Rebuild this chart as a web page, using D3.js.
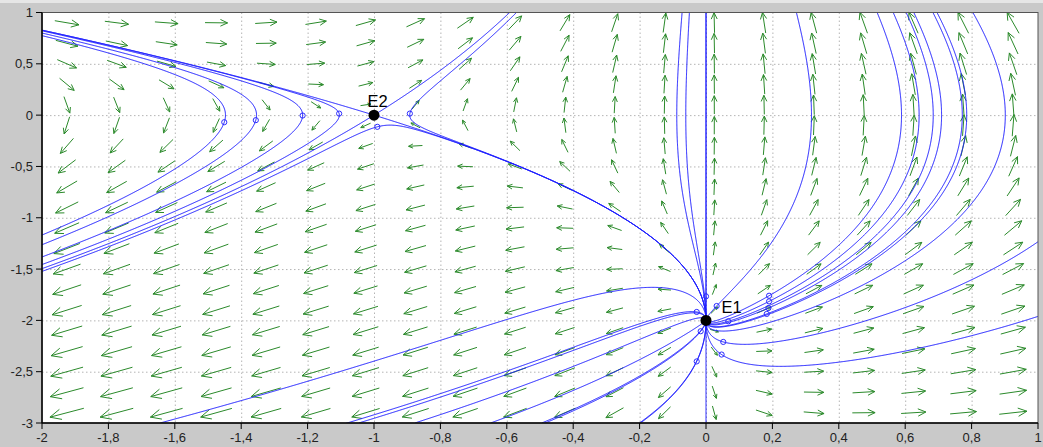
<!DOCTYPE html>
<html>
<head>
<meta charset="utf-8">
<script src="https://cdn.jsdelivr.net/npm/d3@7"></script>
<style>
  body { margin: 0; background: #c9c9c9; }
  svg { display: block; font-family: "Liberation Sans", Arial, sans-serif; }
</style>
</head>
<body>
<svg id="chart" width="1043" height="447"></svg>
<script>
// axis ticks
const xTicks = [-2, -1.8, -1.6, -1.4, -1.2, -1, -0.8, -0.6, -0.4, -0.2, 0, 0.2, 0.4, 0.6, 0.8, 1];
const xTickLabels = ["-2", "-1,8", "-1,6", "-1,4", "-1,2", "-1", "-0,8", "-0,6", "-0,4", "-0,2", "0", "0,2", "0,4", "0,6", "0,8", "1"];
const yTicks = [1, 0.5, 0, -0.5, -1, -1.5, -2, -2.5, -3];
const yTickLabels = ["1", "0,5", "0", "-0,5", "-1", "-1,5", "-2", "-2,5", "-3"];

// system read off the field, coefficients on [1, x, y, x*y]
// x' = -x*y ,  y' = 2 + 2x + y
const sysX = [0, 0, 0, -1];
const sysY = [2, 2, 1, 0];

// direction field grid
const fieldX = [-1.925, -1.775, -1.625, -1.475, -1.325, -1.175, -1.025, -0.875, -0.725, -0.575,
                -0.425, -0.275, -0.125, 0.025, 0.175, 0.325, 0.475, 0.625, 0.775, 0.925];
const fieldY = [-2.9, -2.7, -2.5, -2.3, -2.1, -1.9, -1.7, -1.5, -1.3, -1.1,
                -0.9, -0.7, -0.5, -0.3, -0.1, 0.1, 0.3, 0.5, 0.7, 0.9];

// equilibria
const eqNames = ["E1", "E2"];
const eqX = [0, -1];
const eqY = [-2, 0];

// picked starting points (drawn with small circles)
const seedsSaddle = [[-1.451, -0.069], [-1.356, -0.049], [-1.215, -0.004], [-1.105, 0.015],
                     [-0.892, 0.015], [-0.99, -0.114]];
const seedsNode = [[0.032, -1.86], [0.19, -1.76], [0.19, -1.815], [0.188, -1.88], [0.183, -1.937],
                   [0.067, -2.009], [0.052, -2.21], [0.047, -2.333], [-0.028, -1.918], [-0.028, -2.4],
                   [0.0, -1.766], [-0.016, -2.106]];
// curves from E1 that cross the bottom / top edge (no marker)
const exitBottom = [-1.643, -1.045, -0.876, -0.648, -0.494, -0.2];
const exitTop = [-0.072, -0.05, 0.696, 0.804];

const svg = d3.select("#chart");
const W = 1043, H = 447;
const margin = { top: 12.5, right: 5, bottom: 24, left: 42 };

const x = d3.scaleLinear().domain([-2, 1]).range([margin.left, W - margin.right]);
const y = d3.scaleLinear().domain([-3, 1]).range([H - margin.bottom, margin.top]);
const kx = (x(1) - x(-2)) / 3;
const ky = (y(-3) - y(1)) / 4;

// light strip on top
svg.append("rect").attr("width", W).attr("height", 3).attr("fill", "#e6e6e6");

svg.append("defs").append("clipPath").attr("id", "plot")
  .append("rect")
    .attr("x", x(-2)).attr("y", y(1))
    .attr("width", x(1) - x(-2)).attr("height", y(-3) - y(1));

svg.append("rect")
  .attr("x", x(-2)).attr("y", y(1))
  .attr("width", x(1) - x(-2)).attr("height", y(-3) - y(1))
  .attr("fill", "#fff");

// dotted grid
const grid = svg.append("g").attr("stroke", "#b4b4b4").attr("stroke-dasharray", "1.5,2.5");
grid.selectAll("line.v").data(xTicks.slice(1, -1)).join("line")
  .attr("class", "v")
  .attr("x1", d => x(d) + 0.5).attr("x2", d => x(d) + 0.5)
  .attr("y1", y(1)).attr("y2", y(-3));
grid.selectAll("line.h").data(yTicks.slice(1, -1)).join("line")
  .attr("class", "h")
  .attr("y1", d => y(d) + 0.5).attr("y2", d => y(d) + 0.5)
  .attr("x1", x(-2)).attr("x2", x(1));

const rate = (px, py) => {
  const b = [1, px, py, px * py];
  return [d3.sum(b, (v, i) => v * sysX[i]), d3.sum(b, (v, i) => v * sysY[i])];
};

// direction field
const arrows = [];
fieldY.forEach(fy => fieldX.forEach(fx => {
  const v = rate(fx, fy);
  const sx = v[0] * kx, sy = -v[1] * ky;
  const s = Math.hypot(sx, sy);
  if (s < 1e-9) return;
  const L = 3.63 * Math.pow(s, 0.3);
  const ux = sx / s, uy = sy / s;
  const cx = x(fx), cy = y(fy);
  const tx = cx - ux * L / 2, ty = cy - uy * L / 2;
  const hx = cx + ux * L / 2, hy = cy + uy * L / 2;
  const hl = 0.35 * L, a = 25 * Math.PI / 180;
  const b1 = [hx - hl * (ux * Math.cos(a) - uy * Math.sin(a)), hy - hl * (uy * Math.cos(a) + ux * Math.sin(a))];
  const b2 = [hx - hl * (ux * Math.cos(a) + uy * Math.sin(a)), hy - hl * (uy * Math.cos(a) - ux * Math.sin(a))];
  arrows.push(`M${tx},${ty}L${hx},${hy}M${b1[0]},${b1[1]}L${hx},${hy}L${b2[0]},${b2[1]}`);
}));

svg.append("g")
  .selectAll("path")
  .data(arrows)
  .join("path")
    .attr("d", d => d)
    .attr("fill", "none")
    .attr("stroke", "#2b8a2b")
    .attr("stroke-width", 1);

// trajectories
function trace(p0, dir, skip) {
  const pts = [p0];
  let px = p0[0], py = p0[1];
  for (let n = 0; n < 9000; n++) {
    const v = rate(px, py);
    const sp = Math.hypot(v[0] * kx, v[1] * ky);
    if (sp < 1e-10) break;
    const h = dir * 0.8 / sp;
    const k1 = v;
    const k2 = rate(px + h / 2 * k1[0], py + h / 2 * k1[1]);
    const k3 = rate(px + h / 2 * k2[0], py + h / 2 * k2[1]);
    const k4 = rate(px + h * k3[0], py + h * k3[1]);
    px += h / 6 * (k1[0] + 2 * k2[0] + 2 * k3[0] + k4[0]);
    py += h / 6 * (k1[1] + 2 * k2[1] + 2 * k3[1] + k4[1]);
    pts.push([px, py]);
    if (px < -2.05 || px > 1.05 || py < -3.05 || py > 1.05) break;
    let near = false;
    eqX.forEach((ex, i) => {
      if (i !== skip && Math.hypot((px - ex) * kx, (py - eqY[i]) * ky) < 0.6) near = true;
    });
    if (near) break;
  }
  return pts;
}

const curves = [];
[...seedsSaddle, ...seedsNode].forEach(p => {
  const back = trace(p, -1, -1).reverse();
  const fwd = trace(p, 1, -1);
  curves.push(back.concat(fwd.slice(1)));
});
exitBottom.forEach(ex => curves.push(trace([ex, -2.999], -1, -1)));
exitTop.forEach(ex => curves.push(trace([ex, 0.999], -1, -1)));

// separatrices of the saddle E2: eigenvalues 2 (1,2) and -1 (1,-1)
const e = 0.004;
[[1, 2], [-1, -2]].forEach(d => {
  const n = Math.hypot(d[0], d[1]);
  curves.push(trace([eqX[1] + e * d[0] / n, eqY[1] + e * d[1] / n], 1, 1));
});
[[1, -1], [-1, 1]].forEach(d => {
  const n = Math.hypot(d[0], d[1]);
  curves.push(trace([eqX[1] + e * d[0] / n, eqY[1] + e * d[1] / n], -1, 1));
});
// invariant line x = 0
curves.push(trace([0, -1.99], 1, 0));
curves.push(trace([0, -2.01], 1, 0));

const line = d3.line().x(d => x(d[0])).y(d => y(d[1]));
svg.append("g")
  .attr("clip-path", "url(#plot)")
  .selectAll("path")
  .data(curves)
  .join("path")
    .attr("d", line)
    .attr("fill", "none")
    .attr("stroke", "#1c1cff")
    .attr("stroke-width", 1);

svg.append("g")
  .selectAll("circle")
  .data([...seedsSaddle, ...seedsNode])
  .join("circle")
    .attr("cx", d => x(d[0]))
    .attr("cy", d => y(d[1]))
    .attr("r", 2.6)
    .attr("fill", "none")
    .attr("stroke", "#2a2aff")
    .attr("stroke-width", 1);

// frame and axes
svg.append("rect")
  .attr("x", x(-2)).attr("y", y(1))
  .attr("width", x(1) - x(-2)).attr("height", y(-3) - y(1))
  .attr("fill", "none").attr("stroke", "#555");

svg.append("line")
  .attr("x1", x(-2)).attr("x2", x(-2)).attr("y1", y(1)).attr("y2", y(-3))
  .attr("stroke", "#000").attr("stroke-width", 1.5);
svg.append("line")
  .attr("x1", x(-2)).attr("x2", x(1)).attr("y1", y(-3)).attr("y2", y(-3))
  .attr("stroke", "#000").attr("stroke-width", 1.5);

const yAxis = svg.append("g");
yAxis.selectAll("line").data(yTicks).join("line")
  .attr("x1", x(-2) - 6).attr("x2", x(-2))
  .attr("y1", d => y(d)).attr("y2", d => y(d))
  .attr("stroke", "#000");
yAxis.selectAll("text").data(yTicks).join("text")
  .attr("x", x(-2) - 9)
  .attr("y", d => y(d))
  .attr("dy", "0.35em")
  .attr("text-anchor", "end")
  .attr("font-size", 13)
  .attr("fill", "#222")
  .text((d, i) => yTickLabels[i]);

const xAxis = svg.append("g");
xAxis.selectAll("line").data(xTicks).join("line")
  .attr("x1", d => x(d)).attr("x2", d => x(d))
  .attr("y1", y(-3)).attr("y2", y(-3) + 6)
  .attr("stroke", "#000");
xAxis.selectAll("text").data(xTicks).join("text")
  .attr("x", d => x(d))
  .attr("y", y(-3) + 14)
  .attr("dy", "0.35em")
  .attr("text-anchor", "middle")
  .attr("font-size", 13)
  .attr("fill", "#222")
  .text((d, i) => xTickLabels[i]);

// equilibria
const eq = svg.append("g");
eq.selectAll("circle").data(eqNames).join("circle")
  .attr("cx", (d, i) => x(eqX[i]))
  .attr("cy", (d, i) => y(eqY[i]))
  .attr("r", 5.5)
  .attr("fill", "#000");
eq.selectAll("text").data(eqNames).join("text")
  .attr("x", (d, i) => x(eqX[i]) + (i === 0 ? 15.5 : -6.5))
  .attr("y", (d, i) => y(eqY[i]) + (i === 0 ? -7.5 : -8.5))
  .attr("font-size", 16.5)
  .attr("fill", "#000")
  .text(d => d);
</script>
</body>
</html>
